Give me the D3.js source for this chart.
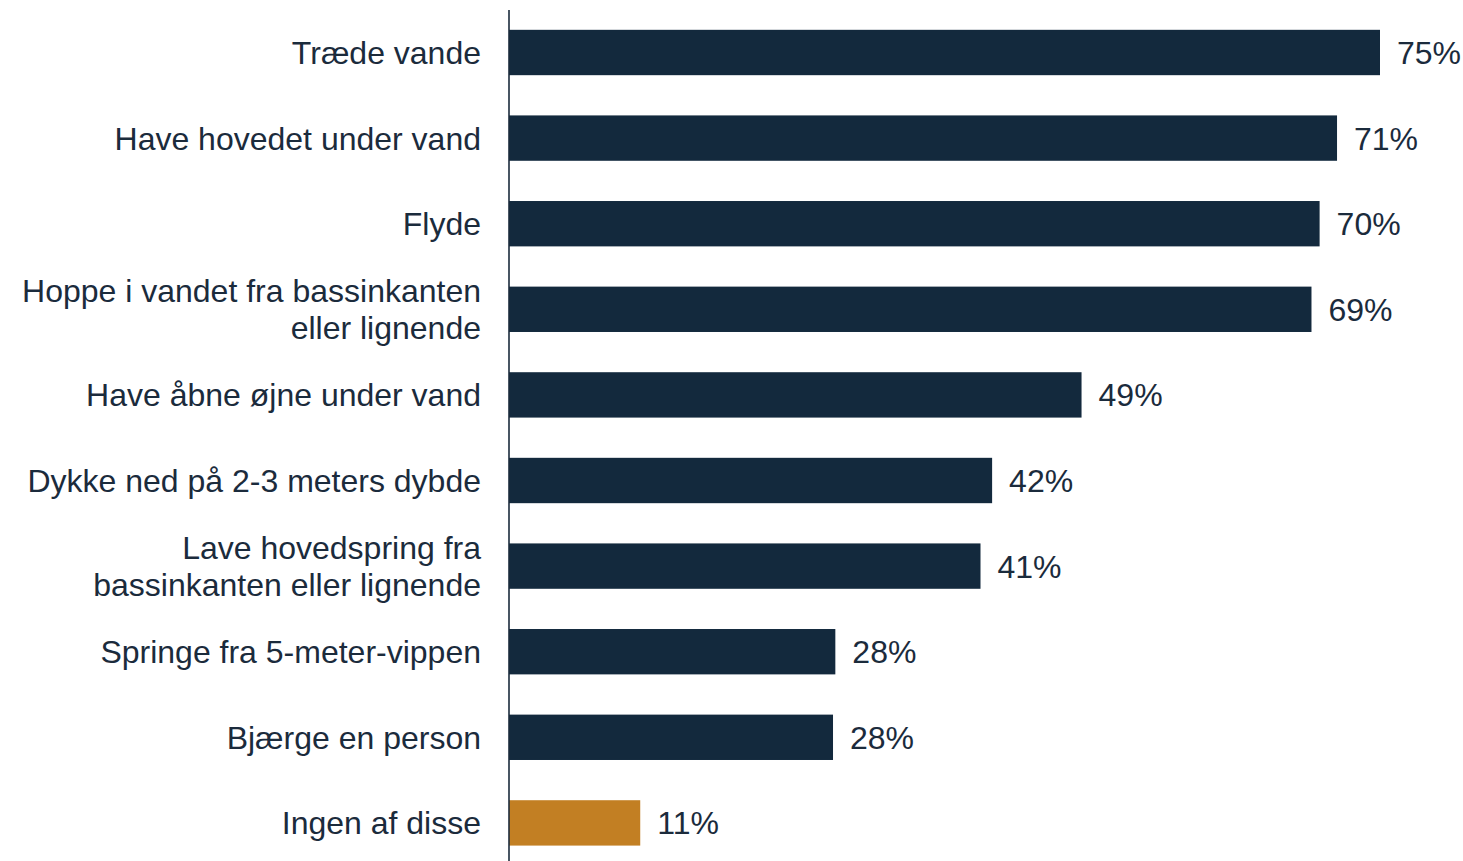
<!DOCTYPE html>
<html><head><meta charset="utf-8">
<script src="https://cdn.jsdelivr.net/npm/d3@7"></script>
<style>html,body{margin:0;padding:0;background:#fff;}svg{display:block;}</style>
</head><body>
<svg id="chart" width="1463" height="861"></svg>
<script>
const categories = [
  ["Træde vande"],
  ["Have hovedet under vand"],
  ["Flyde"],
  ["Hoppe i vandet fra bassinkanten", "eller lignende"],
  ["Have åbne øjne under vand"],
  ["Dykke ned på 2-3 meters dybde"],
  ["Lave hovedspring fra", "bassinkanten eller lignende"],
  ["Springe fra 5-meter-vippen"],
  ["Bjærge en person"],
  ["Ingen af disse"]
];
const values = [75.0, 71.3, 69.8, 69.1, 49.3, 41.6, 40.6, 28.1, 27.9, 11.3];
const highlight = [false, false, false, false, false, false, false, false, false, true];

const svg = d3.select("#chart");
const font = "'Liberation Sans', Arial, sans-serif";
const textColor = "#1b2b3c";

const x = d3.scaleLinear().domain([0, 75]).range([509, 1380]);
const y = d3.scaleBand().domain(d3.range(values.length)).range([9.7, 865.7]).paddingInner(0.47).paddingOuter(0.235);

svg.selectAll("rect.bar").data(values).join("rect")
  .attr("class", "bar")
  .attr("x", x(0))
  .attr("y", (d, i) => y(i))
  .attr("width", d => x(d) - x(0))
  .attr("height", y.bandwidth())
  .attr("fill", (d, i) => highlight[i] ? "#c27f23" : "#13293d");

svg.append("line")
  .attr("x1", x(0)).attr("x2", x(0))
  .attr("y1", 10).attr("y2", 861)
  .attr("stroke", "#1b2b3c").attr("stroke-width", 1.6);

svg.selectAll("text.val").data(values).join("text")
  .attr("class", "val")
  .attr("x", d => x(d) + 17)
  .attr("y", (d, i) => y(i) + y.bandwidth() / 2)
  .attr("dy", "0.36em")
  .attr("font-family", font).attr("font-size", 32).attr("fill", textColor)
  .text(d => d3.format(".0f")(d) + "%");

const lineH = 37;
const labels = svg.selectAll("text.cat").data(categories).join("text")
  .attr("class", "cat")
  .attr("text-anchor", "end")
  .attr("font-family", font).attr("font-size", 32).attr("fill", textColor);
labels.each(function(lines, i) {
  const cy = y(i) + y.bandwidth() / 2;
  const start = cy - (lines.length - 1) * lineH / 2;
  d3.select(this).selectAll("tspan").data(lines).join("tspan")
    .attr("x", 481)
    .attr("y", (l, j) => start + j * lineH)
    .attr("dy", "0.36em")
    .text(l => l);
});
</script>
</body></html>
